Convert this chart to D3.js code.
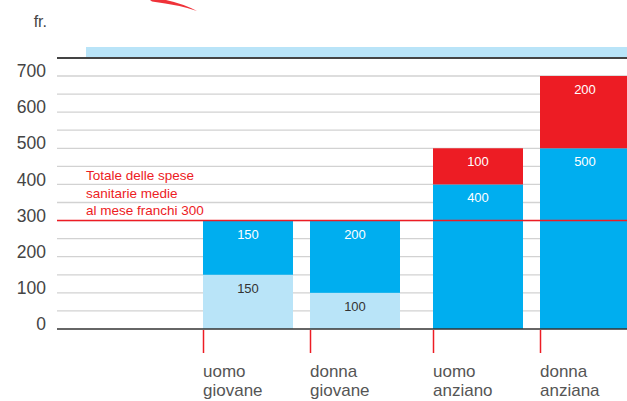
<!DOCTYPE html>
<html><head><meta charset="utf-8">
<script src="https://cdn.jsdelivr.net/npm/d3@7"></script>
<style>body{margin:0;background:#fff}svg{display:block}text{font-family:"Liberation Sans",Arial,sans-serif}</style>
</head><body>
<svg id="c" width="627" height="401"></svg>
<script>
const categories = ["uomo giovane", "donna giovane", "uomo anziano", "donna anziana"];
const ageGroupOf = ["giovani", "giovani", "anziani", "anziani"];
const genderOf = ["uomo", "donna", "uomo", "donna"];
const groups = ["giovani", "anziani"];
const genders = ["uomo", "donna"];
const lightBlueValues = [150, 100, 0, 0];
const blueValues = [150, 200, 400, 500];
const redValues = [0, 0, 100, 200];
const yTicks = [0, 100, 200, 300, 400, 500, 600, 700];
const gridValues = [50, 100, 150, 200, 250, 300, 350, 400, 450, 500, 550, 600, 650, 700];
const averageTotal = 300;
const averageLines = ["Totale delle spese", "sanitarie medie", "al mese franchi 300"];
const unitLabel = "fr.";

const seriesKeys = ["light", "blue", "red"];
const colors = {light: "#b9e4f8", blue: "#00aeef", red: "#ed1c24"};
const labelColors = {light: "#333", blue: "#fff", red: "#fff"};

const rows = categories.map((c, i) => ({cat: c, lines: c.split(" "), gender: genderOf[i], group: ageGroupOf[i],
  light: lightBlueValues[i], blue: blueValues[i], red: redValues[i]}));

const svg = d3.select("#c");
const W = 627, left = 57;
const y = d3.scaleLinear().domain([0, 700]).range([329, 76]);
const xg = d3.scaleBand().domain(groups).range([203, 630]).paddingInner(33 / 230).paddingOuter(0);
const xi = d3.scaleBand().domain(genders).range([0, xg.bandwidth()]).paddingInner(17 / 107).paddingOuter(0);
const xPos = d => xg(d.group) + xi(d.gender);

// swoosh
svg.append("path").attr("d", "M150,0 L166,0 Q184,4 197,11 Q180,5 152,1.5 Z").attr("fill", "#ed1c24").attr("opacity", 0.9);

// unit
svg.append("text").attr("x", 47).attr("y", 27).attr("text-anchor", "end").attr("font-size", 16).attr("fill", "#444").text(unitLabel);

// top light band
svg.append("rect").attr("x", 86).attr("y", 47).attr("width", W - 86).attr("height", 10).attr("fill", "#b9e4f8");
svg.append("line").attr("x1", left).attr("x2", W).attr("y1", 58).attr("y2", 58).attr("stroke", "#444").attr("stroke-width", 2);

// grid
svg.append("g").selectAll("line").data(gridValues).join("line")
  .attr("x1", left).attr("x2", W).attr("y1", d => y(d)).attr("y2", d => y(d))
  .attr("stroke", "#d2d2d2").attr("stroke-width", 1.3);

// y axis labels
const yAxis = d3.axisLeft(y).tickValues(yTicks).tickSize(0).tickPadding(0);
const ga = svg.append("g").attr("transform", "translate(46,-5)").call(yAxis);
ga.select(".domain").remove();
ga.selectAll("text").attr("font-size", 17.5).attr("fill", "#444").attr("font-family", '"Liberation Sans",Arial,sans-serif');

// bars
const stack = d3.stack().keys(seriesKeys)(rows);
const segs = svg.append("g");
stack.forEach(s => {
  segs.selectAll(null).data(s.filter(d => d[1] > d[0])).join("rect")
    .attr("x", d => xPos(d.data)).attr("width", xi.bandwidth())
    .attr("y", d => y(d[1])).attr("height", d => y(d[0]) - y(d[1]))
    .attr("fill", colors[s.key]);
  segs.selectAll(null).data(s.filter(d => d[1] > d[0])).join("text")
    .attr("x", d => xPos(d.data) + xi.bandwidth() / 2).attr("y", d => y(d[1]) + 18)
    .attr("text-anchor", "middle").attr("font-size", 13).attr("fill", labelColors[s.key])
    .text(d => d[1] - d[0]);
});

// average line
svg.append("line").attr("x1", left).attr("x2", W).attr("y1", y(averageTotal)).attr("y2", y(averageTotal))
  .attr("stroke", "#ed1c24").attr("stroke-width", 1.5);
svg.append("g").selectAll("text").data(averageLines).join("text")
  .attr("x", 86).attr("y", (d, i) => 180 + i * 17.5).attr("font-size", 13.5).attr("fill", "#ed1c24").text(d => d);

// baseline
svg.append("line").attr("x1", left).attr("x2", W).attr("y1", y(0)).attr("y2", y(0)).attr("stroke", "#333").attr("stroke-width", 1.5);

// category ticks & labels
const cg = svg.append("g").selectAll("g").data(rows).join("g").attr("transform", d => `translate(${xPos(d)},0)`);
cg.append("line").attr("x1", 0.5).attr("x2", 0.5).attr("y1", 330).attr("y2", 353).attr("stroke", "#ed1c24").attr("stroke-width", 1.5);
cg.append("text").attr("x", 0).attr("y", 377).attr("font-size", 17).attr("fill", "#555").text(d => d.lines[0]);
cg.append("text").attr("x", 0).attr("y", 396).attr("font-size", 17).attr("fill", "#555").text(d => d.lines[1]);
</script>
</body></html>
